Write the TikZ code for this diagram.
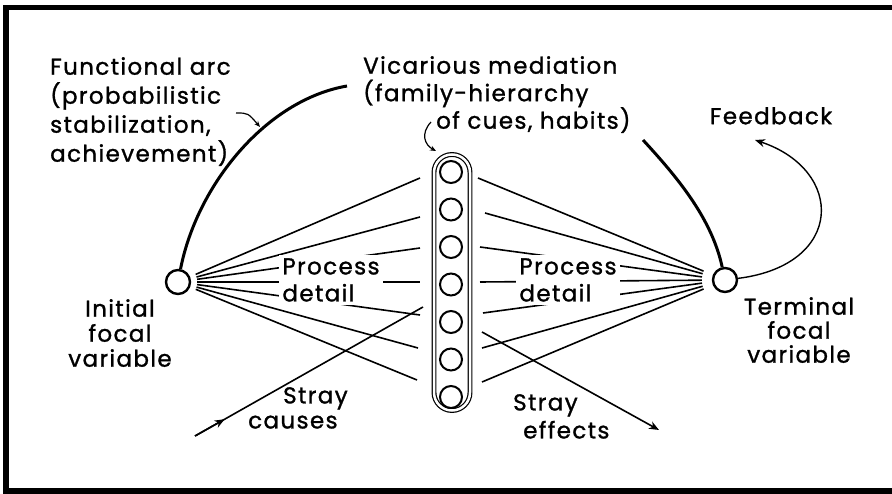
\documentclass[tikz,border=0pt]{standalone}
\usepackage{fontspec}
\setmainfont{Poppins}[LetterSpace=6, FakeBold=1.2]
\usepackage{tikz}
\usetikzlibrary{arrows.meta, positioning, calc}

\tikzset{
  lbl/.style={font=\fontsize{23}{27}\selectfont, inner sep=0pt},
  focal/.style={circle, draw, line width=2.4pt, minimum size=24pt, inner sep=0pt},
  bead/.style={circle, draw, line width=2pt, minimum size=22pt, inner sep=0pt},
  chainbox/.style={draw, double=white, double distance=2.5pt, line width=1.2pt, rounded corners=18pt, minimum width=36pt, minimum height=256pt, inner sep=0pt},
  fan/.style={line width=1.6pt},
  heavy/.style={line width=3pt},
  >={Stealth[length=10pt, width=8pt]}
}

\begin{document}
\begin{tikzpicture}[x=1pt, y=-1pt]
  \useasboundingbox (0,0) rectangle (892,494);
  \draw[line width=5.5pt] (6,7.5) rectangle (905,491);

  \node[focal] (init) at (178,282) {};
  \node[focal] (term) at (725,280) {};
  \node[chainbox] (chain) at (452,282.5) {};
  \foreach \i in {1,...,7}
    \node[bead] (c\i) at (451,134.5+37.5*\i) {};

  \foreach \x/\y [count=\i] in {420/178, 420/217, 420/248, 420/282, 420/315, 418/348, 417/380} {
    \coordinate (l\i) at (\x,\y);
    \draw[fan, shorten <=6pt] (init) -- (l\i);
  }
  \foreach \x/\y [count=\i] in {478/178, 485/213, 480/247, 480/282, 483/313, 482/348, 482/382} {
    \coordinate (r\i) at (\x,\y);
    \draw[fan, shorten >=10pt] (r\i) -- (term);
  }

  \coordinate (sc0) at (195,436);
  \coordinate (sc1) at (423,307);
  \draw[fan, ->] (sc0) -- ($(sc0)!0.13!(sc1)$);
  \draw[fan] (sc0) -- (sc1);
  \coordinate (se0) at (482,332);
  \coordinate (se1) at (659,430);
  \draw[fan, ->] (se0) -- (se1);

  \node[lbl, fill=white, inner sep=3pt, align=left] (procL) at (331,280) {Process\\detail};
  \node[lbl, fill=white, inner sep=3pt, align=left] (procR) at (568,280) {Process\\detail};

  \coordinate (arcend) at (347,86);
  \draw[heavy] (init) .. controls (197,185) and (266,100) .. (arcend);
  \coordinate (termarc) at (643,140);
  \draw[heavy] (termarc) .. controls (680,180) and (712,220) .. (term);
  \coordinate (feedtip) at (755,140);
  \draw[line width=1.4pt, ->] (term) .. controls (845,265) and (845,170) .. (feedtip);

  \coordinate (arcptr) at (236,113);
  \coordinate (arcptrend) at (260,127);
  \draw[line width=1.2pt, -{Stealth[length=6pt, width=5pt]}] (arcptr) .. controls (248,113) .. (arcptrend);
  \coordinate (vicptr) at (431,122);
  \coordinate (vicptrend) at (436,151);
  \draw[line width=1.2pt, -{Stealth[length=6pt, width=5pt]}] (vicptr) .. controls (420,134) and (425,145) .. (vicptrend);

  \node[lbl, align=left, anchor=north west, font=\fontsize{23}{29}\selectfont] (func) at (50,57) {Functional arc\\(probabilistic\\stabilization,\\achievement)};
  \node[lbl, align=left, anchor=north west, font=\fontsize{23}{27.5}\selectfont] (vic) at (363,56) {Vicarious mediation\\(family-hierarchy\\\hspace*{73pt}of cues, habits)};
  \node[lbl, anchor=north] (feed) at (771,107) {Feedback};
  \node[lbl, align=center, anchor=north, font=\fontsize{23}{25}\selectfont] (initlbl) at (120,299) {Initial\\focal\\variable};
  \node[lbl, align=center, anchor=north, font=\fontsize{23}{24}\selectfont] (termlbl) at (799,297) {Terminal\\focal\\variable};
  \node[lbl, align=left, anchor=north west, font=\fontsize{23}{25}\selectfont] (causes) at (248,387) {\hspace*{35pt}Stray\\causes};
  \node[lbl, align=left, anchor=north west, font=\fontsize{23}{28}\selectfont] (effects) at (513,394) {Stray\\\hspace*{10pt}effects};
\end{tikzpicture}
\end{document}
